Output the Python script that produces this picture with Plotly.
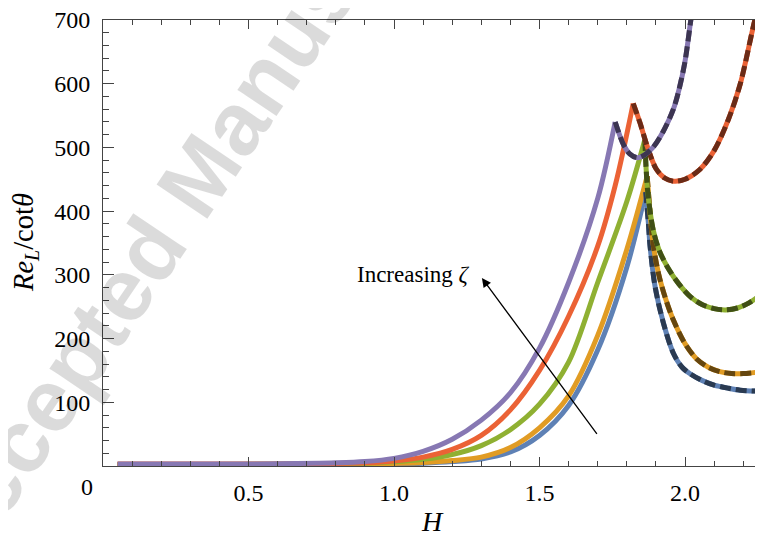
import plotly.graph_objects as go

# ---------------- data ----------------
colors = ["#5E81B5", "#E19C24", "#8FB032", "#EB6235", "#8778B3"]
dark_colors = ["#2A3A51", "#65460F", "#404F16", "#6A2B17", "#3C3551"]

blue_rise_H = [0.05, 0.4, 0.8, 0.9, 1.0, 1.1, 1.2, 1.3, 1.4, 1.5, 1.6, 1.7, 1.8, 1.865]
blue_rise_y = [1.5, 1.5, 2, 2.5, 3, 4.5, 7, 11, 22, 48, 95, 182, 312, 430]
orange_rise_H = [0.05, 0.4, 0.8, 0.9, 1.0, 1.1, 1.2, 1.3, 1.4, 1.5, 1.6, 1.7, 1.8, 1.87]
orange_rise_y = [2, 2, 2.5, 3, 4, 5.5, 8.5, 14, 29, 60, 110, 205, 340, 455]
green_rise_H = [0.05, 0.4, 0.8, 0.9, 1.0, 1.1, 1.2, 1.3, 1.4, 1.5, 1.6, 1.7, 1.8, 1.862]
green_rise_y = [2.5, 2.5, 3.5, 4.5, 6.5, 10.5, 18, 32, 57, 97, 163, 288, 415, 512]
red_rise_H = [0.05, 0.4, 0.8, 0.9, 1.0, 1.1, 1.2, 1.3, 1.4, 1.5, 1.6, 1.7, 1.76, 1.822]
red_rise_y = [3, 3, 4, 5, 8, 14, 26, 48, 88, 150, 235, 345, 440, 569]
purple_rise_H = [0.05, 0.4, 0.6, 0.8, 0.9, 1.0, 1.1, 1.2, 1.3, 1.4, 1.5, 1.6, 1.7, 1.76]
purple_rise_y = [3, 3, 3.5, 5, 7, 12, 23, 42, 72, 115, 185, 288, 420, 540]

blue_dash_H = [1.865, 1.874, 1.88, 1.897, 1.926, 1.96, 1.99, 2.02, 2.06, 2.1, 2.15, 2.19, 2.27]
blue_dash_y = [430, 382, 345, 282, 224, 177, 155, 144, 134, 127, 122, 119, 117]
orange_dash_H = [1.87, 1.88, 1.89, 1.91, 1.935, 1.96, 2.0, 2.04, 2.08, 2.12, 2.16, 2.2, 2.27]
orange_dash_y = [455, 397, 350, 300, 260, 229, 192, 168, 155, 148, 145, 145, 148]
green_dash_H = [1.862, 1.866, 1.872, 1.89, 1.91, 1.94, 1.98, 2.02, 2.06, 2.1, 2.14, 2.18, 2.22, 2.27]
green_dash_y = [512, 470, 430, 372, 340, 312, 285, 265, 253, 247, 245, 248, 256, 272]
red_dash_H = [1.822, 1.845, 1.87, 1.9, 1.93, 1.96, 2.0, 2.05, 2.1, 2.15, 2.19, 2.24, 2.27]
red_dash_y = [569, 539, 502, 467, 452, 447, 450, 465, 495, 545, 600, 700, 750]
purple_dash_H = [1.76, 1.79, 1.81, 1.835, 1.86, 1.89, 1.925, 1.96, 1.98, 2.0, 2.02, 2.03]
purple_dash_y = [540, 503, 490, 484, 488, 500, 525, 560, 592, 635, 700, 730]

x_tickvals = [0.5, 1.0, 1.5, 2.0]
x_ticktext = ["0.5", "1.0", "1.5", "2.0"]
y_tickvals = [100, 200, 300, 400, 500, 600, 700]
y_ticktext = ["100", "200", "300", "400", "500", "600", "700"]

rises = [(blue_rise_H, blue_rise_y), (orange_rise_H, orange_rise_y),
         (green_rise_H, green_rise_y), (red_rise_H, red_rise_y),
         (purple_rise_H, purple_rise_y)]
dashes = [(blue_dash_H, blue_dash_y), (orange_dash_H, orange_dash_y),
          (green_dash_H, green_dash_y), (red_dash_H, red_dash_y),
          (purple_dash_H, purple_dash_y)]

# ---------------- figure ----------------
OFF = 8                      # default page body margin
W, H = 763 - OFF, 537 - OFF
ML, MR, MT, MB = 103 - OFF, 0, 20 - OFF, 71
fig = go.Figure()

LW = 5
for (hx, hy), c in zip(rises, colors):
    fig.add_trace(go.Scatter(x=hx, y=hy, mode="lines",
                             line=dict(color=c, width=LW, shape="spline", smoothing=0.9),
                             showlegend=False, hoverinfo="skip"))
for (hx, hy), c, dc in zip(dashes, colors, dark_colors):
    fig.add_trace(go.Scatter(x=hx, y=hy, mode="lines",
                             line=dict(color=c, width=LW, shape="spline", smoothing=0.9),
                             showlegend=False, hoverinfo="skip"))
    fig.add_trace(go.Scatter(x=hx, y=hy, mode="lines",
                             line=dict(color=dc, width=LW, shape="spline", smoothing=0.9,
                                       dash="11px,5px"),
                             showlegend=False, hoverinfo="skip"))

axis_col = "#444444"
serif = "Liberation Serif"

fig.update_xaxes(range=[0, 2.268], showgrid=False, zeroline=False,
                 showline=True, linecolor=axis_col, linewidth=1, mirror="ticks",
                 ticks="inside", ticklen=9, tickwidth=1, tickcolor=axis_col,
                 tickmode="array", tickvals=x_tickvals, ticktext=x_ticktext,
                 minor=dict(tickmode="linear", tick0=0, dtick=0.1, ticks="inside",
                            ticklen=5, tickwidth=1, tickcolor=axis_col),
                 tickfont=dict(family=serif, size=24, color="black"),
                 ticklabelstandoff=5, ticklabeloverflow="allow")
fig.update_yaxes(range=[0, 700], showgrid=False, zeroline=False,
                 showline=True, linecolor=axis_col, linewidth=1, mirror=False,
                 ticks="inside", ticklen=11, tickwidth=1, tickcolor=axis_col,
                 tickmode="array", tickvals=y_tickvals, ticktext=y_ticktext,
                 minor=dict(tickmode="linear", tick0=0, dtick=20, ticks="inside",
                            ticklen=6, tickwidth=1, tickcolor=axis_col),
                 tickfont=dict(family=serif, size=24, color="black"),
                 ticklabelstandoff=7, ticklabeloverflow="allow")

pw = W - ML - MR
ph = H - MT - MB
def px2paper(px, py):
    # px, py are window pixel positions
    return (px - OFF - ML) / pw, (H - MB - (py - OFF)) / ph

annotations = []
# watermark
wx, wy = px2paper(192, 186)
annotations.append(dict(text="Accepted Manuscript", x=wx, y=wy, xref="paper", yref="paper",
                        showarrow=False, textangle=-56, xanchor="center", yanchor="middle",
                        font=dict(family="Liberation Sans", size=89, color="rgba(0,0,0,0.14)",
                                  weight="bold")))
# "0" label at the corner
zx, zy = px2paper(87, 487)
annotations.append(dict(text="0", x=zx, y=zy, xref="paper", yref="paper", showarrow=False,
                        xanchor="center", yanchor="middle",
                        font=dict(family=serif, size=24, color="black")))
# axis titles
tx, ty = px2paper(432, 521)
annotations.append(dict(text="<i>H</i>", x=tx, y=ty, xref="paper", yref="paper",
                        showarrow=False, xanchor="center", yanchor="middle",
                        font=dict(family=serif, size=28, color="black")))
yx, yy = px2paper(25, 243)
annotations.append(dict(text="<i>Re</i><sub><i>L</i></sub>/cot<i>θ</i>", x=yx, y=yy,
                        xref="paper", yref="paper", showarrow=False, textangle=-90,
                        xanchor="center", yanchor="middle",
                        font=dict(family=serif, size=28.5, color="black")))
# arrow + label
annotations.append(dict(x=1.302, y=295, ax=1.701, ay=48, xref="x", yref="y",
                        axref="x", ayref="y", text="", showarrow=True,
                        arrowhead=2, arrowsize=1.4, arrowwidth=1.3, arrowcolor="black"))
annotations.append(dict(text="Increasing <i>ζ</i>", x=0.866, y=300, xref="x", yref="y",
                        showarrow=False, xanchor="left", yanchor="middle",
                        font=dict(family=serif, size=23, color="black")))

fig.update_layout(width=W, height=H, margin=dict(l=ML, r=MR, t=MT, b=MB),
                  paper_bgcolor="white", plot_bgcolor="white",
                  annotations=annotations, showlegend=False)

fig.write_html("out.html")
